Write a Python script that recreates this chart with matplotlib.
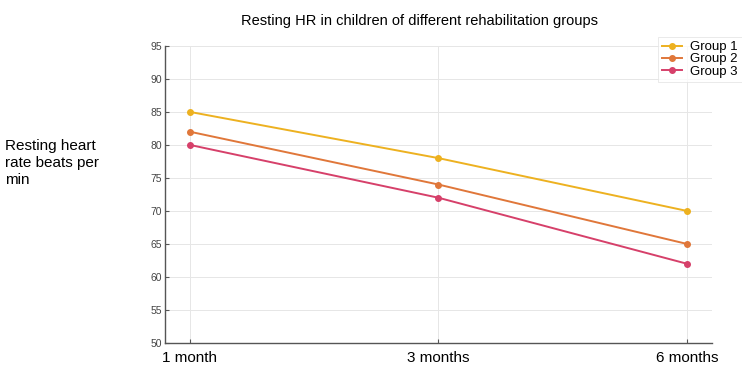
import matplotlib
matplotlib.use("Agg")
import matplotlib.pyplot as plt

plt.rcParams['font.family'] = ['Liberation Sans', 'DejaVu Sans']

# resting heart rate per group at each follow-up
periods = ['1 month', '3 months', '6 months']
group1 = [85, 78, 70]
group2 = [82, 74, 65]
group3 = [80, 72, 62]
labels = ['Group 1', 'Group 2', 'Group 3']
colors = ['#EDB120', '#E0773A', '#D6406A']

fig = plt.figure(figsize=(7.42, 3.65), dpi=100)
ax = fig.add_axes([0.2224, 0.0603, 0.737, 0.814])

x = range(len(periods))
for vals, lab, c in zip([group1, group2, group3], labels, colors):
    ax.plot(x, vals, color=c, marker='o', markersize=4, linewidth=1.4, label=lab)

ax.set_xlim(-0.1, 2.1)
ax.set_ylim(50, 95)
ax.set_yticks(range(50, 96, 5))
ax.set_xticks(list(x))
ax.set_xticklabels(periods, fontsize=11)
ax.tick_params(axis='y', labelsize=7.5, labelcolor='#444444', direction='in',
               length=3, color='#555555', pad=2)
ax.tick_params(axis='x', direction='in', length=3, color='#555555', pad=6)
for s in ['top', 'right']:
    ax.spines[s].set_visible(False)
for s in ['left', 'bottom']:
    ax.spines[s].set_color('#555555')
    ax.spines[s].set_linewidth(1.0)
ax.grid(True, color='#e6e6e6', linewidth=0.7)
ax.set_axisbelow(True)

fig.text(0.566, 0.942, 'Resting HR in children of different rehabilitation groups',
         ha='center', va='center', fontsize=10.5)
fig.text(0.007, 0.553, 'Resting heart\nrate beats per\nmin', ha='left', va='center',
         fontsize=11, linespacing=1.25)

leg = ax.legend(loc='upper left', bbox_to_anchor=(0.902, 1.03), fontsize=9.5,
                frameon=True, fancybox=False, handlelength=1.5, handletextpad=0.6,
                labelspacing=0.0, borderpad=0.3, borderaxespad=0.0)
leg.get_frame().set_edgecolor('#e4e4e4')
leg.get_frame().set_linewidth(0.7)

fig.savefig('out.png', dpi=100)
